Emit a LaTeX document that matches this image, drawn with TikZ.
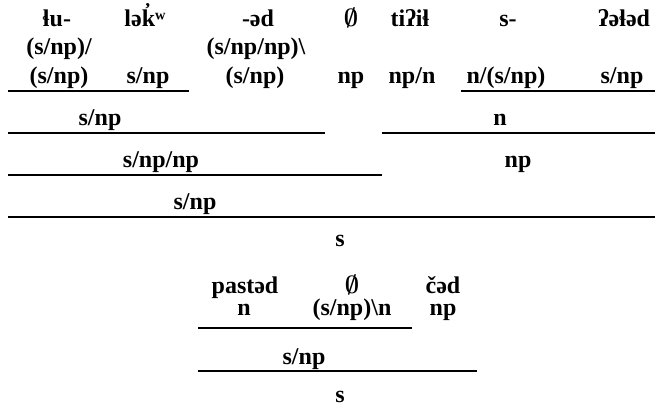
\documentclass[tikz,border=0pt]{standalone}
\usepackage{amsmath}
\usepackage{fontspec}
\setmainfont{Liberation Serif}
\newcommand{\nullcat}{\ensuremath{\boldsymbol{\emptyset}}}
\begin{document}
\begin{tikzpicture}[x=1pt,y=-1pt,
  lbl/.style={inner sep=0pt,anchor=base,font=\fontsize{24}{28}\selectfont\bfseries},
  rule/.style={line width=1.5pt}]
\useasboundingbox[fill=white] (0,0) rectangle (659,406);
% row 1: words
\node[lbl] (w1) at (57,27) {ɬu-};
\node[lbl] (w2) at (145,27) {lək̓ʷ};
\node[lbl] (w3) at (258,27) {-əd};
\node[lbl] (w4) at (351,27) {\nullcat};
\node[lbl] (w5) at (410,27) {tiʔiɬ};
\node[lbl] (w6) at (508,27) {s-};
\node[lbl] (w7) at (624,27) {ʔəɬəd};
% row 2
\node[lbl] (a1) at (59,55) {(s/np)/};
\node[lbl] (a3) at (256,55) {(s/np/np)\textbackslash};
% row 3
\node[lbl] (c1) at (59,84) {(s/np)};
\node[lbl] (c2) at (148,84) {s/np};
\node[lbl] (c3) at (255,84) {(s/np)};
\node[lbl] (c4) at (351,84) {np};
\node[lbl] (c5) at (412,84) {np/n};
\node[lbl] (c6) at (506,84) {n/(s/np)};
\node[lbl] (c7) at (622,84) {s/np};
\draw[rule] (8,91) -- (189,91);
\draw[rule] (461,91) -- (655,91);
% row 4
\node[lbl] (d1) at (100,126) {s/np};
\node[lbl] (d2) at (500,126) {n};
\draw[rule] (8,133) -- (325,133);
\draw[rule] (382,133) -- (655,133);
% row 5
\node[lbl] (e1) at (161,168) {s/np/np};
\node[lbl] (e2) at (518,168) {np};
\draw[rule] (8,175) -- (382,175);
% row 6
\node[lbl] (f1) at (195,210) {s/np};
\draw[rule] (8,217) -- (655,217);
\node[lbl] (g1) at (340,247) {s};
% second derivation
\node[lbl] (h1) at (245,294) {pastəd};
\node[lbl] (h2) at (352,294) {\nullcat};
\node[lbl] (h3) at (443,294) {čəd};
\node[lbl] (i1) at (244,316) {n};
\node[lbl] (i2) at (352,316) {(s/np)\textbackslash n};
\node[lbl] (i3) at (443,316) {np};
\draw[rule] (198,328) -- (412,328);
\node[lbl] (j1) at (304,364) {s/np};
\draw[rule] (198,371) -- (477,371);
\node[lbl] (k1) at (340,402) {s};
\end{tikzpicture}
\end{document}
